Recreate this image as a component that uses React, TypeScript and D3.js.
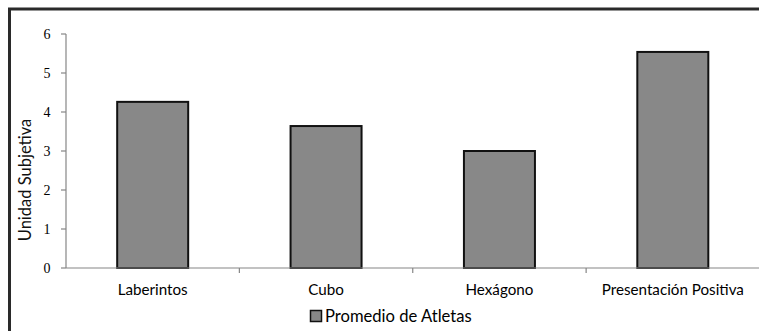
import React from "react";
import * as d3 from "d3";

const categories = ["Laberintos", "Cubo", "Hexágono", "Presentación Positiva"];
const promedioAtletas = [4.26, 3.64, 3.0, 5.54];
const yTicks = [0, 1, 2, 3, 4, 5, 6];
const seriesName = "Promedio de Atletas";
const yTitle = "Unidad Subjetiva";

const W = 759;
const H = 331;
const plot = { left: 66, right: 759, top: 34, bottom: 268 };

export default function App() {
  const x = d3
    .scaleBand<string>()
    .domain(categories)
    .range([plot.left, plot.right + 0.5])
    .paddingInner(0)
    .paddingOuter(0);
  const y = d3.scaleLinear().domain([0, 6]).range([plot.bottom, plot.top]);
  const barW = 71;
  const labelFont = "Lato, 'Open Sans', sans-serif";
  const tickFont = "'Liberation Serif', 'DejaVu Serif', serif";

  const boundaries = categories.slice(1).map((c) => x(c)!);

  return (
    <div style={{ position: "absolute", left: 0, top: 0 }}>
      <svg width={W} height={H} style={{ display: "block", background: "#fff" }}>
        {/* frame */}
        <rect x={9.5} y={9} width={900} height={500} fill="none" stroke="#2a2a2a" strokeWidth={3} />

        {/* bars */}
        {categories.map((c, i) => {
          const cx = x(c)! + x.bandwidth() / 2;
          return (
            <rect
              key={c}
              x={cx - barW / 2}
              y={y(promedioAtletas[i])}
              width={barW}
              height={y(0) - y(promedioAtletas[i])}
              fill="#888888"
              stroke="#111"
              strokeWidth={2}
            />
          );
        })}

        {/* y axis */}
        <line x1={plot.left} x2={plot.left} y1={plot.top} y2={plot.bottom} stroke="#868686" strokeWidth={1.2} />
        {yTicks.map((t) => (
          <g key={t} transform={`translate(0,${y(t)})`}>
            <line x1={plot.left - 5} x2={plot.left} stroke="#868686" strokeWidth={1.2} />
            <text x={50.5} dy="0.35em" textAnchor="end" fontFamily={tickFont} fontSize={14} fill="#000">
              {t}
            </text>
          </g>
        ))}

        {/* x axis */}
        <line x1={plot.left} x2={plot.right} y1={plot.bottom} y2={plot.bottom} stroke="#868686" strokeWidth={1.2} />
        {boundaries.map((b, i) => (
          <line key={i} x1={b} x2={b} y1={plot.bottom} y2={plot.bottom + 5} stroke="#868686" strokeWidth={1.2} />
        ))}
        {categories.map((c) => (
          <text
            key={c}
            x={x(c)! + x.bandwidth() / 2}
            y={295}
            textAnchor="middle"
            fontFamily={labelFont}
            fontSize={15.2}
            fill="#000"
          >
            {c}
          </text>
        ))}

        {/* y title */}
        <text
          transform={`translate(31,180) rotate(-90)`}
          textAnchor="middle"
          fontFamily={labelFont}
          fontSize={16.5}
          fill="#111"
        >
          {yTitle}
        </text>

        {/* legend */}
        <rect x={310.5} y={310.5} width={11} height={11} fill="#888888" stroke="#111" strokeWidth={1.5} />
        <text x={325} y={321.5} fontFamily={labelFont} fontSize={16.6} fill="#000">
          {seriesName}
        </text>
      </svg>
    </div>
  );
}
